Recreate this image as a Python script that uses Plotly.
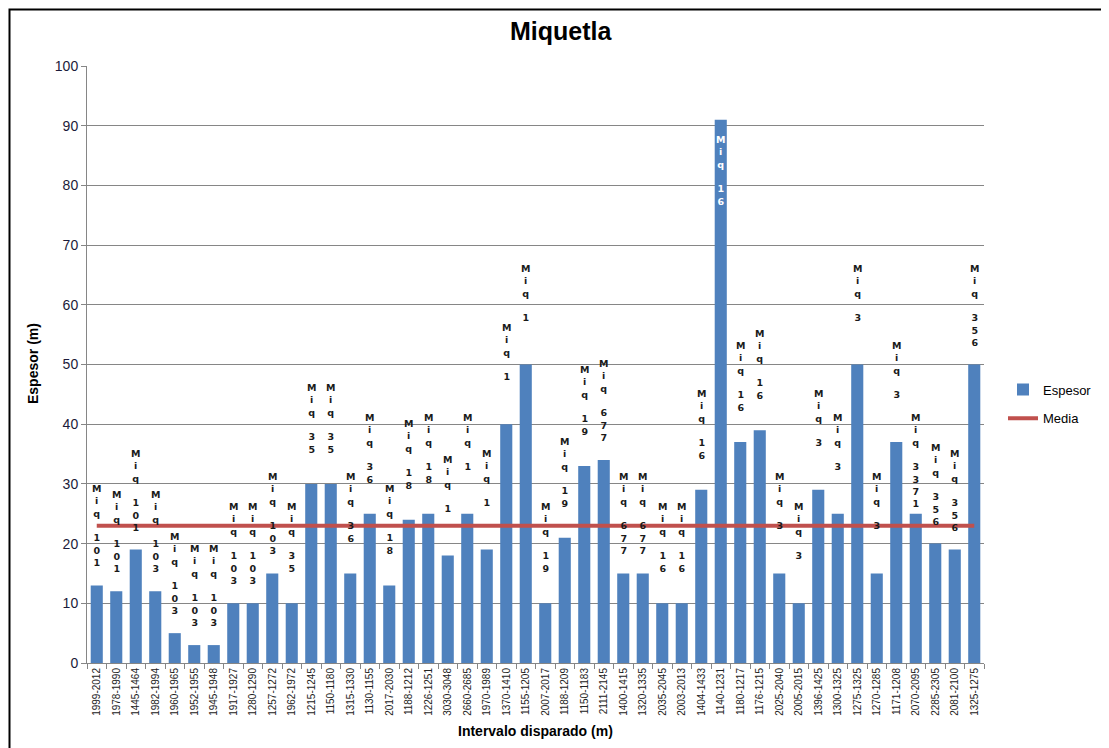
import plotly.graph_objects as go

# intervalos disparados (categorias del eje x)
intervalos = [
    "1999-2012", "1978-1990", "1445-1464", "1982-1994", "1960-1965", "1952-1955",
    "1945-1948", "1917-1927", "1280-1290", "1257-1272", "1962-1972", "1215-1245",
    "1150-1180", "1315-1330", "1130-1155", "2017-2030", "1188-1212", "1226-1251",
    "3030-3048", "2660-2685", "1970-1989", "1370-1410", "1155-1205", "2007-2017",
    "1188-1209", "1150-1183", "2111-2145", "1400-1415", "1320-1335", "2035-2045",
    "2003-2013", "1404-1433", "1140-1231", "1180-1217", "1176-1215", "2025-2040",
    "2005-2015", "1396-1425", "1300-1325", "1275-1325", "1270-1285", "1171-1208",
    "2070-2095", "2285-2305", "2081-2100", "1325-1275",
]

espesor = [
    13, 12, 19, 12, 5, 3, 3, 10, 10, 15, 10, 30,
    30, 15, 25, 13, 24, 25, 18, 25, 19, 40, 50, 10,
    21, 33, 34, 15, 15, 10, 10, 29, 91, 37, 39, 15,
    10, 29, 25, 50, 15, 37, 25, 20, 19, 50,
]

pozos = [
    "Miq 101", "Miq 101", "Miq 101", "Miq 103", "Miq 103", "Miq 103",
    "Miq 103", "Miq 103", "Miq 103", "Miq 103", "Miq 35", "Miq 35",
    "Miq 35", "Miq 36", "Miq 36", "Miq 18", "Miq 18", "Miq 18",
    "Miq 1", "Miq 1", "Miq 1", "Miq 1", "Miq 1", "Miq 19",
    "Miq 19", "Miq 19", "Miq 677", "Miq 677", "Miq 677", "Miq 16",
    "Miq 16", "Miq 16", "Miq 16", "Miq 16", "Miq 16", "Miq 3",
    "Miq 3", "Miq 3", "Miq 3", "Miq 3", "Miq 3", "Miq 3",
    "Miq 3371", "Miq 356", "Miq 356", "Miq 356",
]

media = 23

# la pagina tiene 8px de margen en el body
OFF = 8
W, H = 1109 - OFF, 748 - OFF
X0, X1, Y0, Y1 = 87, 984, 66, 663  # area de trazado en la imagen
L, R, T, B = X0 - OFF, (1109 - X1), Y0 - OFF, (748 - Y1)
pw, ph = X1 - X0, Y1 - Y0


def px(x):
    return (x - X0) / pw


def py(y):
    return (Y1 - y) / ph


fig = go.Figure()

fig.add_trace(go.Bar(
    x=intervalos, y=espesor, name="Espesor", legendgroup="a",
    marker=dict(color="#4F81BD", line=dict(width=0)),
))
fig.add_trace(go.Scatter(
    x=intervalos, y=[media] * len(intervalos), name="Media", legendgroup="b",
    mode="lines", line=dict(color="#C0504D", width=4),
))

# etiquetas verticales (un caracter por linea)
for cat, val, lab in zip(intervalos, espesor, pozos):
    txt = "<br>".join(f"<b>{ch}</b>" if ch != " " else "" for ch in lab)
    inside = val > 80
    fig.add_annotation(
        x=cat, y=val, text=txt, showarrow=False,
        xanchor="center", yanchor="top", yshift=-12 if inside else 104,
        align="center",
        font=dict(family="DejaVu Sans", size=9.5,
                  color="white" if inside else "#1a1a1a"),
    )

fig.add_annotation(text="<b>Miquetla</b>", xref="paper", yref="paper",
                   x=px(561), y=py(31), showarrow=False,
                   xanchor="center", yanchor="middle",
                   font=dict(family="Liberation Sans", size=25, color="black"))
fig.add_annotation(text="<b>Espesor (m)</b>", xref="paper", yref="paper",
                   x=px(33), y=py(364), showarrow=False,
                   textangle=-90, xanchor="center", yanchor="middle",
                   font=dict(family="Liberation Sans", size=14, color="black"))
fig.add_annotation(text="<b>Intervalo disparado (m)</b>", xref="paper", yref="paper",
                   x=px(535), y=py(731), showarrow=False,
                   xanchor="center", yanchor="middle",
                   font=dict(family="Liberation Sans", size=14, color="black"))

# borde del area del grafico
fig.add_shape(type="rect", xref="paper", yref="paper",
              x0=px(9.5), x1=px(1130), y0=py(770), y1=py(9.5),
              line=dict(color="black", width=2), fillcolor="rgba(0,0,0,0)")

fig.update_layout(
    width=W, height=H,
    margin=dict(l=L, r=R, t=T, b=B, autoexpand=False),
    paper_bgcolor="white", plot_bgcolor="white",
    bargap=0.38,
    font=dict(family="Liberation Sans"),
    legend=dict(x=px(1003), y=py(404), xanchor="left", yanchor="middle",
                font=dict(size=13, color="black"), tracegroupgap=9),
)
fig.update_xaxes(
    type="category", tickangle=-90, tickfont=dict(size=10, color="#222"),
    showline=True, linecolor="#868686", linewidth=1,
    ticks="outside", ticklen=5, tickcolor="#868686", tickson="boundaries",
    showgrid=False, automargin=False,
)
fig.update_yaxes(
    range=[0, 100], dtick=10, tickfont=dict(size=14, color="#1b1b3a"),
    showline=True, linecolor="#868686", linewidth=1,
    ticks="outside", ticklen=5, tickcolor="#868686",
    showgrid=True, gridcolor="#868686", gridwidth=1,
    zeroline=False, automargin=False,
)

fig.write_html("out.html")
